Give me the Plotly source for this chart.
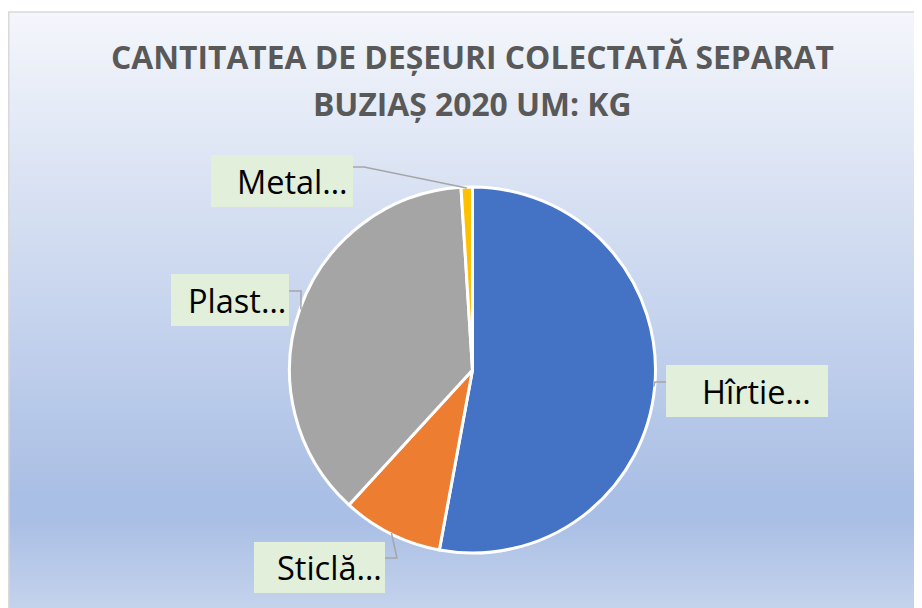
import plotly.graph_objects as go
import numpy as np

# ---------------- data ----------------
categories = ["Hîrtie", "Sticlă", "Plastic", "Metal"]
label_texts = ["Hîrtie…", "Sticlă…", "Plast…", "Metal…"]
values = [52.9, 8.9, 37.2, 1.0]
colors = ["#4472C4", "#ED7D31", "#A5A5A5", "#FFC000"]
title_lines = ["CANTITATEA DE DEȘEURI COLECTATĂ SEPARAT", "BUZIAȘ 2020 UM: KG"]

# ---------------- layout geometry (pixels in the screenshot) ----------------
W, H = 922, 608
OFF = 8  # page body margin
CX, CY, R = 472.5, 370.0, 183.0

def px(x):
    return (x - OFF) / W

def py(y):
    return 1 - (y - OFF) / H

fig = go.Figure()
fig.add_trace(go.Pie(
    labels=categories, values=values, sort=False, direction="clockwise", rotation=0,
    marker=dict(colors=colors, line=dict(color="white", width=3)),
    textinfo="none", hoverinfo="label+percent", showlegend=False,
    domain=dict(x=[px(CX - R), px(CX + R)], y=[py(CY + R), py(CY - R)]),
))

shapes = []
# gradient background (Office light gradient look)
stops = [(12, (0xF4, 0xF6, 0xFB)), (495, (0xAA, 0xBF, 0xE5)), (520, (0xAA, 0xBF, 0xE5)), (608, (0xC4, 0xD3, 0xEC))]
ys = np.arange(12, 616, 4)
for y0 in ys:
    yc = min(y0 + 2, 608)
    c = stops[-1][1]
    for (a, ca), (b, cb) in zip(stops[:-1], stops[1:]):
        if a <= yc <= b:
            t = (yc - a) / (b - a) if b > a else 0
            c = tuple(int(round(ca[i] + t * (cb[i] - ca[i]))) for i in range(3))
            break
    shapes.append(dict(type="rect", xref="paper", yref="paper", x0=px(9), x1=1.0,
                       y0=max(py(y0 + 4.6), 0), y1=py(y0), fillcolor="rgb(%d,%d,%d)" % c,
                       line=dict(width=0), layer="below"))
# chart border
shapes.append(dict(type="line", xref="paper", yref="paper", x0=px(8), x1=1.0, y0=py(12), y1=py(12),
                   line=dict(color="#D9D9D9", width=1.5), layer="below"))
shapes.append(dict(type="line", xref="paper", yref="paper", x0=px(8.75), x1=px(8.75), y0=py(12), y1=0,
                   line=dict(color="#D9D9D9", width=1.5), layer="below"))

# label boxes: (box x0, y0, x1, y1), text right x, connection point, elbow point
label_style = {
    "Hîrtie": dict(box=(666, 365, 828, 417), tx=813, conn=(666, 382), elbow=(655, 382)),
    "Sticlă": dict(box=(254, 542, 385, 593), tx=384, conn=(385, 558), elbow=(397, 558)),
    "Plastic": dict(box=(171, 274, 289, 326), tx=288, conn=(289, 291), elbow=(301, 291)),
    "Metal": dict(box=(211, 155, 353, 207), tx=350, conn=(353, 167), elbow=(364, 167)),
}

total = sum(values)
cum = 0.0
annotations = []
for cat, lab, v in zip(categories, label_texts, values):
    mid = (cum + v / 2) / total * 2 * np.pi
    cum += v
    ex = CX + (R - 1) * np.sin(mid)
    ey = CY - (R - 1) * np.cos(mid)
    st = label_style[cat]
    bx0, by0, bx1, by1 = st["box"]
    shapes.append(dict(type="rect", xref="paper", yref="paper", x0=px(bx0), x1=px(bx1),
                       y0=py(by1), y1=py(by0), fillcolor="#E2EFDA", line=dict(width=0)))
    (c1x, c1y), (c2x, c2y) = st["conn"], st["elbow"]
    path = "M %f %f L %f %f L %f %f" % (px(c1x), py(c1y), px(c2x), py(c2y), px(ex), py(ey))
    shapes.append(dict(type="path", xref="paper", yref="paper", path=path,
                       line=dict(color="#A6A6A6", width=1.5)))
    annotations.append(dict(xref="paper", yref="paper", x=px(st["tx"]), y=py((by0 + by1) / 2),
                            xanchor="right", yanchor="middle", showarrow=False, text=lab,
                            font=dict(family="Open Sans", size=32.5, color="#000000")))

# title
for line, yc in zip(title_lines, [56, 103]):
    annotations.append(dict(xref="paper", yref="paper", x=px(472), y=py(yc), xanchor="center",
                            yanchor="middle", showarrow=False, text="<b>%s</b>" % line,
                            font=dict(family="Open Sans", size=31.8, color="#595959")))

fig.update_layout(
    width=W, height=H, margin=dict(l=0, r=0, t=0, b=0),
    paper_bgcolor="white", plot_bgcolor="white",
    shapes=shapes, annotations=annotations,
)

fig.write_html("out.html")
